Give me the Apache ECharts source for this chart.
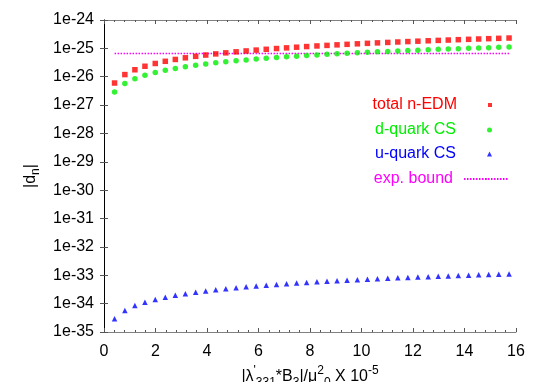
<!DOCTYPE html>
<html>
<head>
<meta charset="utf-8">
<script src="https://cdn.jsdelivr.net/npm/echarts@6/dist/echarts.min.js"></script>
<style>
    html, body { margin: 0; padding: 0; background: #fff; }
    #main { width: 545px; height: 382px; }
</style>
</head>
<body>
<div id="main"></div>
<script>
// x positions of the computed points (units of 1e-5)
const xVals = [0.41, 0.81, 1.20, 1.59, 1.99, 2.38, 2.77, 3.16, 3.56, 3.95,
    4.34, 4.73, 5.13, 5.52, 5.91, 6.30, 6.70, 7.09, 7.48, 7.87,
    8.27, 8.66, 9.05, 9.44, 9.84, 10.23, 10.62, 11.02, 11.41, 11.80,
    12.19, 12.59, 12.98, 13.37, 13.76, 14.16, 14.55, 14.94, 15.33, 15.73];

// |d_n| total
const totalEDM = [6.0e-27, 1.19e-26, 1.76e-26, 2.34e-26, 2.93e-26, 3.50e-26, 4.07e-26, 4.65e-26, 5.23e-26, 5.81e-26,
    6.38e-26, 6.95e-26, 7.54e-26, 8.11e-26, 8.69e-26, 9.26e-26, 9.85e-26, 1.042e-25, 1.100e-25, 1.157e-25,
    1.216e-25, 1.273e-25, 1.330e-25, 1.388e-25, 1.446e-25, 1.504e-25, 1.561e-25, 1.620e-25, 1.677e-25, 1.735e-25,
    1.792e-25, 1.851e-25, 1.908e-25, 1.965e-25, 2.023e-25, 2.082e-25, 2.139e-25, 2.196e-25, 2.254e-25, 2.312e-25];

// d-quark chromo-EDM contribution
const dQuarkCS = [2.91e-27, 5.75e-27, 8.52e-27, 1.129e-26, 1.413e-26, 1.690e-26, 1.967e-26, 2.244e-26, 2.528e-26, 2.805e-26,
    3.081e-26, 3.358e-26, 3.642e-26, 3.919e-26, 4.196e-26, 4.473e-26, 4.757e-26, 5.034e-26, 5.311e-26, 5.588e-26,
    5.872e-26, 6.149e-26, 6.426e-26, 6.702e-26, 6.986e-26, 7.263e-26, 7.540e-26, 7.824e-26, 8.101e-26, 8.378e-26,
    8.655e-26, 8.939e-26, 9.216e-26, 9.493e-26, 9.770e-26, 1.005e-25, 1.033e-25, 1.061e-25, 1.088e-25, 1.117e-25];

// u-quark chromo-EDM contribution
const uQuarkCS = [2.91e-35, 5.75e-35, 8.52e-35, 1.129e-34, 1.413e-34, 1.690e-34, 1.967e-34, 2.244e-34, 2.528e-34, 2.805e-34,
    3.081e-34, 3.358e-34, 3.642e-34, 3.919e-34, 4.196e-34, 4.473e-34, 4.757e-34, 5.034e-34, 5.311e-34, 5.588e-34,
    5.872e-34, 6.149e-34, 6.426e-34, 6.702e-34, 6.986e-34, 7.263e-34, 7.540e-34, 7.824e-34, 8.101e-34, 8.378e-34,
    8.655e-34, 8.939e-34, 9.216e-34, 9.493e-34, 9.770e-34, 1.005e-33, 1.033e-33, 1.061e-33, 1.088e-33, 1.117e-33];

// experimental bound
const expBound = 6.6e-26;

// y axis decades (exponents of 10)
const yMinExp = -35;
const yMaxExp = -24;

const FONT = "'Liberation Sans', Arial, sans-serif";

// log10 axis: the y axis runs over the decade exponent
const pairs = (ys) => xVals.map((x, i) => [x, Math.log10(ys[i])]);
const boundData = [[xVals[0], Math.log10(expBound)], [xVals[xVals.length - 1], Math.log10(expBound)]];

const chart = echarts.init(document.getElementById("main"));

// one legend per row so the icon sits right of right-aligned text
const legendRow = (name, color, center, opts) => Object.assign({
    right: 53,
    top: center - 9,
    align: "right",
    orient: "vertical",
    padding: 0,
    itemGap: 0,
    itemWidth: 5,
    itemHeight: 5,
    selectedMode: false,
    data: [name],
    textStyle: { color: color, fontSize: 16, fontFamily: FONT, lineHeight: 18, padding: [0, 26, 0, 0] },
}, opts || {});

const xAxisCommon = {
    type: "value",
    min: 0,
    max: 16,
    interval: 2,
    axisLine: { show: true, lineStyle: { color: "#808080", width: 1 } },
    axisTick: { show: true, inside: true, length: 4, lineStyle: { color: "#555" } },
    minorTick: { show: true, splitNumber: 5, length: 2, lineStyle: { color: "#555" } },
    splitLine: { show: false },
};

const yAxisCommon = {
    type: "value",
    min: yMinExp,
    max: yMaxExp,
    interval: 1,
    axisTick: { show: true, inside: true, length: 4, lineStyle: { color: "#555" } },
    splitLine: { show: false },
};

const options = {
    animation: false,
    backgroundColor: "#fff",
    grid: { left: 104, right: 29, top: 20, bottom: 50, containLabel: false, outerBoundsMode: "none" },
    legend: [
        legendRow("total n-EDM", "#ff0000", 105, { itemWidth: 4, itemHeight: 4 }),
        legendRow("d-quark CS", "#00ee00", 130),
        legendRow("u-quark CS", "#0000ff", 154),
        legendRow("exp. bound", "#ff00ff", 179, {
            right: 35, itemWidth: 45, itemHeight: 2,
            textStyle: { color: "#ff00ff", fontSize: 16, fontFamily: FONT, lineHeight: 18, padding: [0, 6, 0, 0] },
        }),
    ],
    xAxis: [
        Object.assign({}, xAxisCommon, {
            position: "bottom",
            axisLabel: { fontSize: 16, color: "#000", fontFamily: FONT, margin: 12 },
            name: "|λ{sup|'}{sub|331}*B{sub|3}|/μ{sup|2}{sub|0} X 10{sup|-5}",
            nameLocation: "middle",
            nameGap: 25,
            nameTextStyle: {
                fontSize: 16, color: "#000", fontFamily: FONT, lineHeight: 24,
                rich: {
                    sub: { fontSize: 12, fontFamily: FONT, color: "#000", lineHeight: 10, verticalAlign: "bottom" },
                    sup: { fontSize: 12, fontFamily: FONT, color: "#000", lineHeight: 10, verticalAlign: "top" },
                },
            },
        }),
        Object.assign({}, xAxisCommon, {
            position: "top",
            axisLabel: { show: false },
        }),
    ],
    yAxis: [
        Object.assign({}, yAxisCommon, {
            position: "left",
            axisLine: { show: true, lineStyle: { color: "#808080", width: 1 } },
            axisLabel: {
                fontSize: 16, color: "#000", fontFamily: FONT, margin: 10,
                formatter: (v) => "1e" + Math.round(v),
            },
            name: "|d{sub|n}|",
            nameLocation: "middle",
            nameRotate: 90,
            nameGap: 46,
            nameTextStyle: {
                fontSize: 16, color: "#000", fontFamily: FONT, lineHeight: 24,
                rich: { sub: { fontSize: 12, fontFamily: FONT, color: "#000", lineHeight: 10, verticalAlign: "bottom" } },
            },
        }),
        Object.assign({}, yAxisCommon, {
            position: "right",
            axisLine: { show: true, lineStyle: { color: "#000", width: 1 } },
            axisLabel: { show: false },
        }),
    ],
    series: [
        {
            name: "total n-EDM",
            type: "scatter",
            symbol: "rect",
            symbolSize: 5.5,
            itemStyle: { color: "#ff0000" },
            data: pairs(totalEDM),
        },
        {
            name: "d-quark CS",
            type: "scatter",
            symbol: "circle",
            symbolSize: 5.5,
            itemStyle: { color: "#00ee00" },
            data: pairs(dQuarkCS),
        },
        {
            name: "u-quark CS",
            type: "scatter",
            symbol: "triangle",
            symbolSize: 5.5,
            itemStyle: { color: "#0000ff" },
            data: pairs(uQuarkCS),
        },
        {
            name: "exp. bound",
            type: "line",
            symbol: "none",
            z: 1,
            lineStyle: { color: "#ff00ff", width: 1.5, type: [1.5, 1.5] },
            itemStyle: { color: "#ff00ff" },
            data: boundData,
        },
    ],
};

chart.setOption(options);
</script>
</body>
</html>
